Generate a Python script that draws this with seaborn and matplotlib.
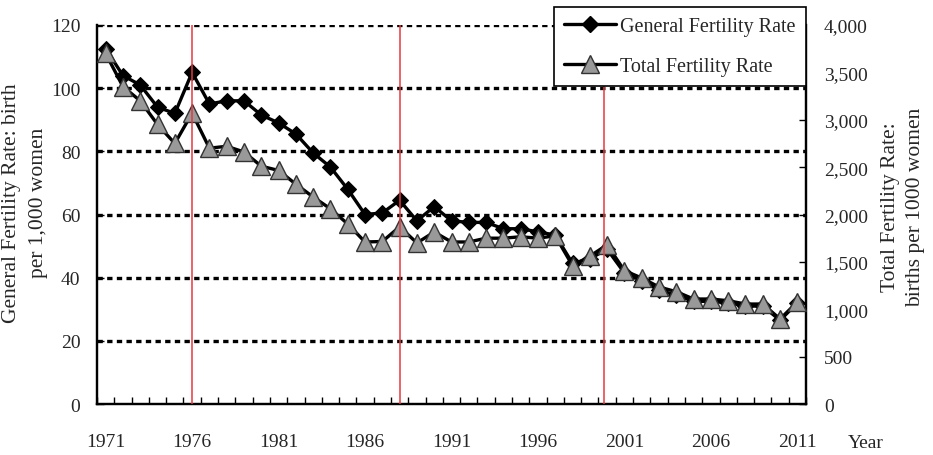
import numpy as np
import pandas as pd
import matplotlib
matplotlib.use("Agg")
import matplotlib.pyplot as plt
import seaborn as sns
from matplotlib.lines import Line2D

years = list(range(1971, 2012))
gfr = [112.5, 104, 101, 94, 92, 105, 95, 96, 96, 91.5, 89, 85.5, 79.5, 75, 68,
       60, 60.5, 64.5, 58, 62.5, 58, 57.5, 57.5, 55.5, 55.5, 54.5, 53.5, 44.5, 46, 49,
       41.5, 39, 36, 34.5, 32.5, 32.5, 32, 31, 31, 26.5, 32]
tfr = [3700, 3350, 3200, 2950, 2750, 3070, 2700, 2720, 2660, 2510, 2465, 2320, 2185, 2060, 1900,
       1710, 1715, 1870, 1700, 1815, 1710, 1710, 1750, 1750, 1765, 1750, 1775, 1460, 1560, 1680,
       1407, 1330, 1235, 1185, 1108, 1108, 1090, 1055, 1055, 897, 1076]
label_years = [1971, 1976, 1981, 1986, 1991, 1996, 2001, 2006, 2011]
event_years = [1976, 1988, 1999.8]
left_ticks = [0, 20, 40, 60, 80, 100, 120]
right_ticks = [0, 500, 1000, 1500, 2000, 2500, 3000, 3500, 4000]

df = pd.DataFrame({"Year": years, "GFR": gfr, "TFR": tfr})

sns.set_style("white")
plt.rcParams["font.family"] = ["Liberation Serif", "DejaVu Serif"]

fig = plt.figure(figsize=(9.33, 4.56), dpi=100)
ax = fig.add_axes([97/933, 1-405/456, (806-97)/933, (405-26)/456])
ax2 = ax.twinx()

tri_color = "#999999"

sns.lineplot(data=df, x="Year", y="GFR", ax=ax, color="black", lw=2.4,
             marker="D", markersize=8, markerfacecolor="black", markeredgecolor="black", zorder=3)
sns.lineplot(data=df, x="Year", y="TFR", ax=ax2, color="black", lw=2.4,
             marker="^", markersize=13.5, markerfacecolor=tri_color, markeredgecolor="#333333",
             markeredgewidth=1.0, zorder=3)

for yv in left_ticks[1:]:
    ax.axhline(yv, color="black", lw=2.4, ls=(0, (1.6, 1.3)), zorder=1)

for ev in event_years:
    ax2.axvline(ev, color="#e8383d", lw=1.1, zorder=5)

ax.set_xlim(1970.5, 2011.5)
ax.set_ylim(0, 120)
ax2.set_ylim(0, 4000)

ax.set_xticks(label_years)
ax.set_xticklabels([str(y) for y in label_years])
ax.set_xticks(np.arange(1970.5, 2012, 1.0), minor=True)
ax.tick_params(axis="x", which="major", length=0, pad=21, labelsize=14)
ax.tick_params(axis="x", which="minor", direction="in", length=5, width=1, bottom=True, color="black")

ax.set_yticks(left_ticks)
ax.tick_params(axis="y", which="major", direction="in", length=5, width=1, left=True, pad=12, labelsize=14, color="black")
ax2.set_yticks(right_ticks)
ax2.set_yticklabels([f"{v:,}" for v in right_ticks])
ax2.tick_params(axis="y", which="major", direction="in", length=5, width=1, right=True, pad=13, labelsize=14, color="black")

ax.set_xlabel("")
ax.set_ylabel("")
ax2.set_ylabel("")

for a in (ax, ax2):
    a.spines["top"].set_visible(False)
    for s in ("left", "right", "bottom"):
        a.spines[s].set_color("black")
        a.spines[s].set_linewidth(1.6)
    a.grid(False)

fig.text(25/933, 1-203/456, "General Fertility Rate: birth\nper 1,000 women", rotation=90,
         ha="center", va="center", fontsize=15.5, multialignment="center", linespacing=1.55)
fig.text(903/933, 1-207/456, "Total Fertility Rate:\nbirths per 1000 women", rotation=90,
         ha="center", va="center", fontsize=15.5, multialignment="center", linespacing=1.5)
fig.text(866/933, 1-444/456, "Year", ha="center", va="center", fontsize=14)

handles = [
    Line2D([], [], color="black", lw=2.4, marker="D", markersize=8, markerfacecolor="black"),
    Line2D([], [], color="black", lw=2.4, marker="^", markersize=13.5, markerfacecolor=tri_color,
           markeredgecolor="#333333", markeredgewidth=1.0),
]
leg = fig.legend(handles, ["General Fertility Rate", "Total Fertility Rate"],
                 loc="upper left", bbox_to_anchor=(554/933, 1-8/456), fontsize=14.5,
                 frameon=True, fancybox=False, edgecolor="black", framealpha=1,
                 handlelength=2.6, handletextpad=0.2, borderpad=0.5, labelspacing=1.05,
                 borderaxespad=0)
leg.get_frame().set_linewidth(1.2)

fig.savefig("out.png", dpi=100)
